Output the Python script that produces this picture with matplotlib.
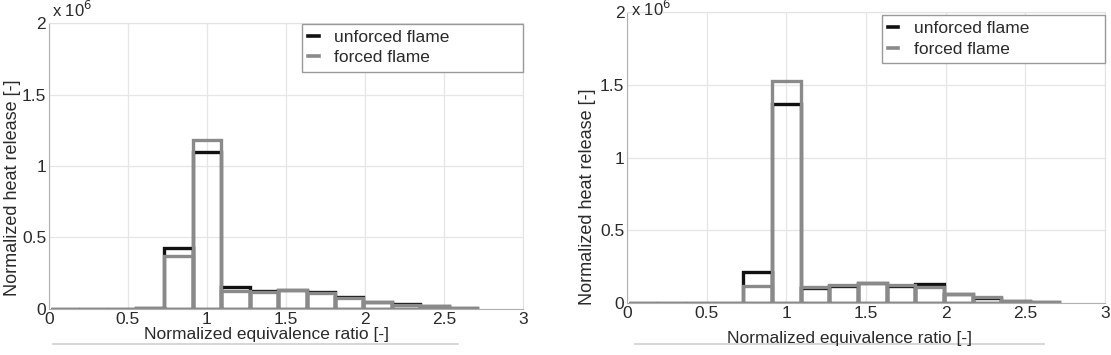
import matplotlib
matplotlib.use("Agg")
import matplotlib.pyplot as plt
from matplotlib.lines import Line2D
import numpy as np

plt.rcParams['font.family'] = ['Liberation Sans', 'DejaVu Sans']

# bin centres of the equivalence-ratio histogram
phi_centres = [0.10, 0.28, 0.46, 0.64, 0.82, 1.00, 1.18, 1.36, 1.54, 1.72, 1.90, 2.08, 2.26, 2.44, 2.62]
bin_width = 0.18

# heat release, units of 1e6
left_unforced = [0, 0, 0, 0.005, 0.43, 1.10, 0.156, 0.125, 0.13, 0.12, 0.084, 0.052, 0.033, 0.020, 0.006]
left_forced = [0, 0, 0, 0.010, 0.37, 1.18, 0.126, 0.120, 0.13, 0.115, 0.080, 0.050, 0.030, 0.018, 0.005]
right_unforced = [0, 0, 0, 0, 0.216, 1.37, 0.105, 0.120, 0.135, 0.120, 0.131, 0.060, 0.036, 0.015, 0.008]
right_forced = [0, 0, 0, 0, 0.117, 1.53, 0.108, 0.124, 0.140, 0.124, 0.108, 0.062, 0.039, 0.016, 0.009]

xticks = [0, 0.5, 1, 1.5, 2, 2.5, 3]
yticks = [0, 0.5, 1, 1.5, 2]
xtick_labels = ["0", "0.5", "1", "1.5", "2", "2.5", "3"]
ytick_labels = ["0", "0.5", "1", "1.5", "2"]

GRAY = "#8a8a8a"
BLACK = "#111111"
TXT = "#2a2a2a"

fig = plt.figure(figsize=(11.11, 3.55), dpi=100)
ax1 = fig.add_axes([0.0441, 0.1296, 0.4266, 0.8056])
ax2 = fig.add_axes([0.5644, 0.1465, 0.4302, 0.8186])


def draw(ax, unforced, forced, leg_box):
    ax.bar(phi_centres, unforced, width=bin_width, fill=False, edgecolor=BLACK, linewidth=2.4, zorder=3)
    ax.bar(phi_centres, forced, width=bin_width, fill=False, edgecolor=GRAY, linewidth=2.4, zorder=4)
    ax.set_xlim(0, 3)
    ax.set_ylim(0, 2)
    ax.set_xticks(xticks)
    ax.set_xticklabels(xtick_labels)
    ax.set_yticks(yticks)
    ax.set_yticklabels(ytick_labels)
    ax.tick_params(length=0, labelsize=12.5, labelcolor=TXT)
    ax.tick_params(axis="x", pad=2)
    ax.tick_params(axis="y", pad=2)
    ax.grid(True, color="#e6e6e6", linewidth=0.9)
    ax.set_axisbelow(True)
    for s in ["top", "right"]:
        ax.spines[s].set_color("#e2e2e2")
    for s in ["left", "bottom"]:
        ax.spines[s].set_color("#b0b0b0")
    handles = [Line2D([], [], color=BLACK, lw=2.6), Line2D([], [], color=GRAY, lw=2.6)]
    leg = ax.legend(handles, ["unforced flame", "forced flame"], loc="upper left",
                    bbox_to_anchor=leg_box, mode="expand", fontsize=12.5, handlelength=0.6,
                    handletextpad=0.9, borderpad=0.35, labelspacing=0.3,
                    fancybox=False, framealpha=1, edgecolor="#999999", borderaxespad=0)
    leg.get_frame().set_linewidth(1.0)
    for t in leg.get_texts():
        t.set_color(TXT)


draw(ax1, left_unforced, left_forced, (0.534, 0.811, 0.466, 0.186))
draw(ax2, right_unforced, right_forced, (0.533, 0.809, 0.467, 0.182))

# axis labels
fig.text(0.011, 0.47, "Normalized heat release [-]", rotation=90, ha="center", va="center",
         fontsize=13, color=TXT)
fig.text(0.529, 0.445, "Normalized heat release [-]", rotation=90, ha="center", va="center",
         fontsize=13, color=TXT)
fig.text(0.240, 0.057, "Normalized equivalence ratio [-]", ha="center", va="center",
         fontsize=12.5, color=TXT)
fig.text(0.765, 0.047, "Normalized equivalence ratio [-]", ha="center", va="center",
         fontsize=12.5, color=TXT)

# exponent labels
fig.text(0.047, 0.943, r"x 10$^6$", fontsize=12, color=TXT, va="bottom")
fig.text(0.568, 0.946, r"x 10$^6$", fontsize=12, color=TXT, va="bottom")

# faint rules under the x labels
fig.add_artist(Line2D([0.048, 0.412], [0.030, 0.030], color="#cfcfcf", lw=1.2))
fig.add_artist(Line2D([0.572, 0.940], [0.030, 0.030], color="#cfcfcf", lw=1.2))

fig.savefig("out.png", dpi=100)
